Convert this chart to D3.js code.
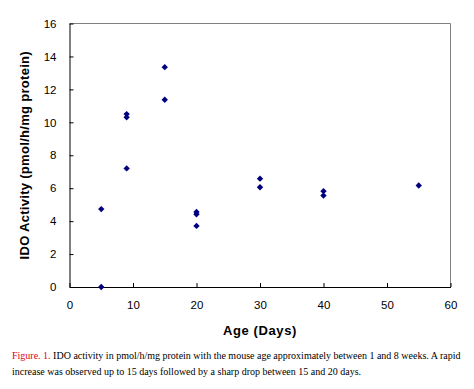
<!DOCTYPE html>
<html>
<head>
<meta charset="utf-8">
<script src="https://cdn.jsdelivr.net/npm/d3@7"></script>
<style>
  html, body { margin: 0; padding: 0; background: #fff; }
  svg { display: block; }
</style>
</head>
<body>
<svg id="chart" width="474" height="389"></svg>
<script>
// Data
const ageDays = [5, 5, 9, 9, 9, 15, 15, 20, 20, 20, 30, 30, 40, 40, 55];
const idoActivity = [4.73, 0, 10.5, 10.3, 7.2, 13.35, 11.37, 4.56, 4.42, 3.71, 6.58, 6.06, 5.82, 5.55, 6.16];
const xTicks = [0, 10, 20, 30, 40, 50, 60];
const yTicks = [0, 2, 4, 6, 8, 10, 12, 14, 16];
const xTitle = "Age (Days)";
const yTitle = "IDO Activity (pmol/h/mg protein)";
const captionLabel = "Figure. 1.";
const captionLine1 = " IDO activity in pmol/h/mg protein with the mouse age approximately between 1 and 8 weeks. A rapid";
const captionLine2 = "increase was observed up to 15 days followed by a sharp drop between 15 and 20 days.";

(function () {
const svg = d3.select("#chart");
const pL = 69.5, pR = 450.5, pT = 23.5, pB = 287;

const x = d3.scaleLinear().domain([0, 60]).range([pL, pR]);
const y = d3.scaleLinear().domain([0, 16]).range([pB, pT]);

// plot border (top/right gray)
svg.append("path")
  .attr("d", `M${pL},${pT}H${pR}V${pB}`)
  .attr("fill", "none").attr("stroke", "#808080").attr("stroke-width", 1);

// axes
const xAxis = d3.axisBottom(x).tickValues(xTicks).tickSizeInner(-4).tickSizeOuter(0).tickPadding(14);
const yAxis = d3.axisLeft(y).tickValues(yTicks).tickSizeInner(-4).tickSizeOuter(0).tickPadding(13);

const gx = svg.append("g").attr("transform", `translate(0,${pB})`).call(xAxis);
const gy = svg.append("g").attr("transform", `translate(${pL},0)`).call(yAxis);
[gx, gy].forEach(g => {
  g.select(".domain").attr("stroke", "#000");
  g.selectAll(".tick line").attr("stroke", "#000");
  g.selectAll("text").attr("fill", "#000")
    .style("font-family", "Arial, 'Liberation Sans', sans-serif").style("font-size", "11.5px");
});

// points
const diamond = d3.symbol().type(d3.symbolDiamond2).size(26);
svg.append("g").selectAll("path")
  .data(ageDays.map((d, i) => [d, idoActivity[i]]))
  .join("path")
  .attr("d", diamond)
  .attr("transform", d => `translate(${x(d[0])},${y(d[1])})`)
  .attr("fill", "#000080");

// axis titles
svg.append("text")
  .attr("x", (pL + pR) / 2).attr("y", 335)
  .attr("text-anchor", "middle")
  .style("font-family", "Arial, 'Liberation Sans', sans-serif")
  .style("font-size", "13px").style("font-weight", "bold").style("letter-spacing", "0.6px")
  .text(xTitle);

svg.append("text")
  .attr("transform", `translate(29,${(pT + pB) / 2}) rotate(-90)`)
  .attr("text-anchor", "middle")
  .style("font-family", "Arial, 'Liberation Sans', sans-serif")
  .style("font-size", "13px").style("font-weight", "bold").style("letter-spacing", "0.3px")
  .text(yTitle);

// caption
const cap = svg.append("g")
  .style("font-family", "'Liberation Serif', 'Times New Roman', serif")
  .style("font-size", "10px");
const t1 = cap.append("text").attr("x", 12).attr("y", 359);
t1.append("tspan").attr("fill", "#e0001b").text(captionLabel);
t1.append("tspan").attr("fill", "#000").text(captionLine1);
cap.append("text").attr("x", 12).attr("y", 375).attr("fill", "#000").text(captionLine2);
})();
</script>
</body>
</html>
